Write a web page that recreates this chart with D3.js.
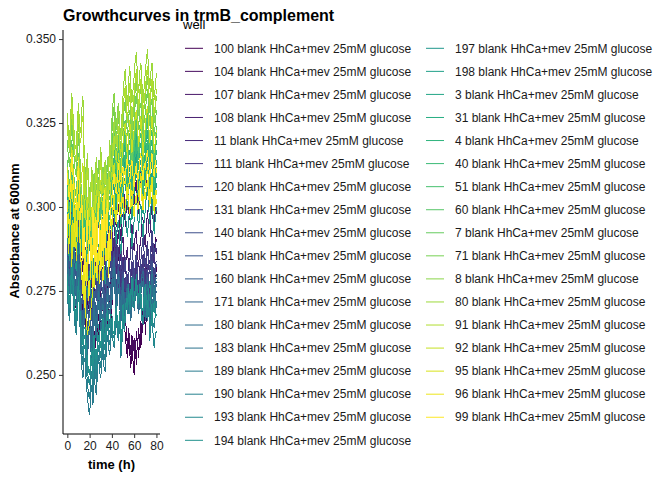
<!DOCTYPE html>
<html>
<head>
<meta charset="utf-8">
<script src="https://cdn.jsdelivr.net/npm/d3@7"></script>
<style>
  body { margin: 0; background: #fff; }
  text { font-family: "Liberation Sans", Arial, sans-serif; }
</style>
</head>
<body>
<div id="chart"></div>
<script>
// sampling times (h), hourly reads
const time = d3.range(0, 81);

// well labels, in legend order
const wells = ['100','104','107','108','11','111','120','131','140','151','160','171','180','183','189','190','193','194',
  '197','198','3','31','4','40','51','60','7','71','8','80','91','92','95','96','99'];

// OD600, in thousandths, one value per hour
const od_100 = [284,291,276,281,289,282,279,270,272,280, 285,277,270,266,278,272,264,269,273,265, 262,268,271,264,263,258,270,264,260,267, 266,261,259,264,268,262,265,270,272,266, 270,277,281,274,273,280,279,271,268,273, 272,266,262,258,255,261,257,252,259,254, 250,258,253,261,255,262,258,264,268,274, 262,268,276,271,268,275,279,273,271,278, 282];
const od_104 = [290,284,281,288,294,286,284,277,279,287, 292,283,276,280,284,275,270,276,279,271, 268,274,281,273,272,279,278,270,266,271, 275,269,270,277,280,273,274,280,283,276, 278,285,289,282,280,286,287,279,276,281, 280,274,268,263,258,264,260,256,262,257, 261,255,263,258,264,259,266,262,270,276, 277,284,289,283,281,287,292,286,284,291, 290];
const od_107 = [300,294,291,298,305,299,294,287,288,296, 302,295,287,291,295,286,280,285,290,283, 278,284,288,281,283,289,291,285,279,284, 287,281,282,289,293,287,286,292,295,289, 292,298,303,296,294,300,301,295,290,297, 298,304,294,300,305,299,296,303,310,304, 300,306,308,301,298,305,311,306,303,309, 314,308,305,312,316,310,307,313,318,312, 312];
const od_108 = [296,301,303,296,288,294,299,293,291,298, 305,297,284,289,292,285,279,284,287,280, 276,282,285,278,280,286,290,283,277,282, 284,291,288,282,281,287,292,285,286,292, 290,294,297,290,286,291,293,287,284,289, 291,285,280,286,288,281,283,290,295,289, 287,292,293,286,282,288,290,297,296,291, 288,294,299,293,291,297,302,296,294,300, 298];
const od_11  = [292,287,284,291,298,291,287,282,281,288, 294,286,279,284,288,281,273,278,283,276, 271,276,280,274,276,282,285,278,272,277, 281,275,276,283,286,280,279,285,288,282, 283,288,291,285,280,286,288,281,276,282, 285,278,272,277,280,274,269,275,278,271, 274,279,283,277,276,282,284,278,279,285, 281,287,290,284,283,288,291,286,283,288, 286];
const od_111 = [297,291,288,295,302,295,291,286,285,292, 298,291,286,290,293,285,279,284,289,282, 276,281,286,279,282,287,290,284,278,282, 285,279,281,288,291,286,284,289,292,287, 286,281,279,285,289,283,281,286,275,280, 284,277,270,276,279,273,273,279,282,277, 276,281,285,278,272,277,281,276,286,281, 278,284,288,282,280,286,291,285,283,289, 287];
const od_120 = [288,283,280,287,293,287,283,278,278,285, 290,284,281,277,275,281,286,279,272,277, 280,274,270,277,283,279,276,282,288,283, 279,284,285,279,274,281,287,283,280,286, 284,280,278,283,286,280,275,279,282,277, 271,276,279,273,268,272,276,281,284,278, 272,277,281,274,269,274,278,283,285,280, 276,280,283,278,274,280,286,282,279,283, 284];
const od_131 = [302,297,294,300,307,301,296,292,290,297, 303,297,291,287,284,290,295,288,281,286, 290,284,279,286,292,288,285,291,296,291, 287,291,293,288,283,289,295,291,288,293, 291,287,284,289,293,286,280,285,288,282, 277,281,285,279,274,279,283,287,290,284, 278,283,287,281,275,280,284,288,291,286, 282,286,289,284,280,287,293,289,285,289, 290];
const od_140 = [294,289,286,293,299,293,289,285,283,290, 296,289,283,279,277,283,288,281,274,279, 283,277,271,278,285,280,278,284,289,284, 280,284,286,281,276,282,289,285,282,287, 280,284,286,281,276,280,283,278,272,277, 280,274,272,276,277,271,275,270,275,280, 272,275,279,273,272,276,277,280,282,277, 274,278,281,276,272,279,284,280,277,281, 283];
const od_151 = [290,285,282,288,295,289,285,281,279,286, 291,284,278,274,271,277,283,276,268,273, 276,271,266,272,279,275,272,278,284,279, 275,279,280,275,270,276,282,278,276,281, 279,283,285,280,274,278,282,276,270,275, 278,273,269,272,276,270,274,269,275,278, 271,275,278,273,269,273,276,279,280,275, 271,275,278,273,269,275,281,277,274,278, 279];
const od_160 = [287,282,279,285,292,286,282,278,276,283, 289,281,274,270,266,272,279,272,263,268, 271,266,261,268,275,271,267,273,280,275, 270,274,276,271,266,272,279,275,272,277, 276,280,283,277,271,275,279,274,268,273, 276,271,268,272,275,270,273,268,274,277, 270,274,277,272,268,272,274,277,278,273, 268,272,276,271,266,272,279,275,271,275, 277];
const od_171 = [284,279,276,282,289,283,279,275,273,280, 286,278,271,267,263,269,276,269,260,265, 269,263,258,265,272,268,265,271,277,272, 268,271,273,268,264,270,276,273,270,274, 278,282,285,279,273,277,281,276,270,275, 279,274,270,274,277,272,275,270,276,279, 272,276,279,274,271,275,277,280,281,276, 271,275,279,274,269,276,282,278,274,278, 280];
const od_180 = [282,277,274,280,287,281,276,272,270,277, 283,275,267,263,259,265,272,265,255,260, 264,258,253,260,268,264,260,266,272,267, 263,266,268,263,259,265,271,268,265,269, 272,276,279,273,268,272,276,271,265,270, 275,270,266,271,274,268,270,266,272,276, 269,273,277,271,268,272,274,278,276,271, 266,270,274,269,264,270,277,273,269,273, 275];
const od_183 = [285,280,277,283,290,284,280,276,274,281, 287,279,270,266,262,268,275,268,258,263, 266,261,256,263,271,267,263,269,275,270, 266,269,271,266,262,268,274,271,268,272, 275,279,282,276,271,275,279,274,268,273, 278,272,269,273,276,271,274,269,275,279, 272,276,280,274,270,274,276,279,279,274, 269,273,277,272,267,273,280,276,272,276, 278];
const od_189 = [277,271,268,275,281,276,271,266,264,270, 276,268,258,252,249,254,255,247,244,240, 238,244,247,241,252,246,244,250,256,251, 249,254,258,252,251,257,262,258,256,260, 264,260,258,263,267,262,260,265,255,259, 268,263,266,271,268,274,269,273,277,271, 270,274,279,272,270,275,271,266,265,270, 273,268,266,271,274,269,268,273,276,271, 270];
const od_190 = [274,269,266,272,279,274,269,264,262,268, 275,268,261,256,253,258,259,252,248,244, 243,248,251,246,256,251,248,254,259,255, 252,257,261,256,254,260,265,261,259,263, 267,262,261,266,270,265,263,268,258,262, 270,266,268,273,271,277,270,275,279,273, 272,276,280,274,272,277,270,267,268,273, 276,271,269,274,262,266,270,265,264,268, 272];
const od_193 = [280,274,271,278,284,279,274,269,267,273, 279,271,264,259,256,261,262,255,252,248, 247,252,255,249,259,254,251,257,262,258, 255,260,264,259,257,263,268,264,262,266, 265,260,259,264,268,263,261,266,256,260, 268,263,267,272,269,275,268,273,277,270, 271,275,279,272,271,276,272,267,266,271, 274,269,267,272,260,264,268,262,258,262, 263];
const od_194 = [278,273,270,276,283,277,273,268,266,272, 278,271,266,262,259,264,264,258,255,251, 250,255,258,253,262,257,254,260,265,261, 258,263,267,262,260,266,270,266,264,268, 268,263,262,267,271,266,264,269,259,263, 271,266,268,273,270,276,271,275,279,273, 272,276,280,274,273,277,275,270,269,274, 277,272,270,275,278,272,265,269,272,267, 268];
const od_197 = [292,287,284,290,298,291,287,283,281,288, 294,288,283,279,276,282,287,280,273,278, 281,275,271,278,285,281,278,284,289,284, 281,285,287,282,277,283,290,286,284,289, 292,297,299,293,289,295,296,290,286,291, 294,299,300,294,291,297,298,293,288,292, 296,302,304,298,293,299,301,295,291,296, 299,304,306,300,295,300,303,297,292,297, 300];
const od_198 = [300,295,292,298,306,299,295,291,289,296, 302,296,291,287,284,290,295,288,281,286, 289,283,279,286,293,289,286,292,297,292, 289,293,295,290,285,291,298,294,292,297, 300,305,308,301,297,303,305,299,294,299, 302,307,309,303,299,305,307,301,296,301, 304,309,312,306,301,307,309,303,298,304, 306,311,313,307,302,308,310,304,299,303, 307];
const od_3   = [304,299,296,302,310,303,299,295,293,300, 306,300,295,291,288,294,299,292,285,290, 293,287,283,290,297,293,290,296,301,296, 293,297,299,294,289,295,302,298,296,301, 305,310,313,306,302,308,310,304,299,304, 307,312,314,308,304,310,312,306,301,306, 309,314,317,311,306,312,314,308,303,309, 311,316,318,312,307,313,315,309,304,308, 312];
const od_31  = [298,293,290,296,304,297,293,289,287,294, 300,294,293,289,286,292,297,290,283,288, 291,285,281,288,295,291,288,294,299,294, 291,295,297,292,287,293,300,296,294,299, 303,308,311,304,300,306,308,302,297,302, 305,310,312,306,302,308,310,304,299,304, 307,312,315,309,304,310,312,306,301,307, 309,314,316,310,305,311,313,307,302,306, 310];
const od_4   = [307,302,299,305,313,306,302,298,296,303, 309,303,298,294,291,297,302,295,288,293, 296,290,286,293,300,296,293,299,304,299, 296,300,302,297,292,298,305,301,299,304, 310,315,318,311,307,313,315,309,304,309, 312,317,319,313,309,315,317,311,306,311, 314,319,322,316,311,317,319,313,308,314, 316,321,323,317,312,318,320,314,309,313, 317];
const od_40  = [302,297,294,300,308,301,297,293,291,298, 304,298,295,291,288,294,299,292,285,290, 293,287,283,290,297,293,290,296,301,296, 293,297,299,294,289,295,302,298,296,301, 307,312,315,308,304,310,312,306,301,306, 309,314,316,310,306,312,314,308,303,308, 311,316,319,313,308,314,316,310,305,311, 313,318,320,314,309,315,317,311,306,310, 314];
const od_51  = [310,304,302,309,316,310,305,300,299,306, 312,305,301,296,294,299,305,298,291,296, 299,294,289,296,303,298,296,301,307,302, 299,303,305,299,295,301,308,304,302,306, 313,317,321,314,310,316,318,311,307,312, 315,319,322,316,312,318,320,314,309,314, 317,321,325,319,314,320,322,316,311,317, 319,323,326,320,315,321,323,317,312,316, 320];
const od_60  = [306,301,298,304,312,305,301,297,295,302, 308,302,299,295,292,298,303,296,289,294, 297,291,287,294,301,297,294,300,305,300, 297,301,303,298,293,299,306,302,300,305, 315,319,323,316,312,318,320,314,309,314, 317,322,324,318,314,320,322,316,311,316, 319,323,327,321,316,322,324,318,313,319, 321,325,328,322,317,323,325,319,314,318, 322];
const od_7   = [314,309,306,312,320,313,309,305,303,310, 316,309,303,299,296,302,307,300,293,298, 301,295,291,298,305,301,298,304,309,304, 301,305,307,302,297,303,310,306,304,309, 317,322,325,318,314,320,322,316,311,316, 319,324,326,320,316,322,324,318,313,318, 321,325,329,323,318,324,326,320,315,321, 323,327,330,324,319,325,327,321,316,320, 324];
const od_71  = [320,314,312,319,326,320,315,311,309,316, 322,314,306,302,299,305,310,303,296,301, 304,298,294,301,308,304,301,307,312,307, 304,308,310,305,300,306,313,309,307,312, 322,327,330,323,319,325,327,321,316,321, 324,329,332,326,321,327,329,323,318,323, 326,331,334,328,323,329,331,325,320,326, 328,332,335,329,324,330,332,326,321,325, 329];
const od_8   = [324,319,316,322,330,323,319,315,313,320, 326,318,308,304,301,307,312,305,298,303, 306,300,296,303,310,306,303,309,314,309, 306,310,312,307,302,308,315,311,309,314, 326,331,334,327,323,329,331,325,320,325, 328,333,336,330,325,331,333,327,322,327, 330,335,338,332,327,333,335,329,324,330, 332,336,339,333,328,334,336,330,325,329, 333];
const od_80  = [328,322,320,327,334,328,323,318,317,325, 331,324,322,329,333,318,306,311,316,308, 300,306,312,305,302,309,315,308,305,312, 318,311,307,310,314,308,304,312,320,315, 312,319,326,321,318,324,329,323,320,327, 333,338,341,334,330,337,342,336,331,335, 339,344,346,339,334,340,343,337,331,336, 340,344,347,340,335,340,343,337,332,336, 340];
const od_91  = [325,319,317,324,331,325,320,315,314,321, 328,321,319,325,327,314,302,307,312,305, 297,303,309,302,299,306,311,305,302,309, 315,308,304,307,311,305,300,309,316,311, 308,315,321,316,313,319,324,318,315,322, 328,333,336,330,325,332,337,331,326,330, 334,338,341,335,329,334,338,333,326,331, 335,339,342,336,330,335,338,332,327,331, 335];
const od_92  = [312,306,304,311,318,312,307,302,301,308, 315,308,306,310,313,302,296,300,303,297, 291,296,300,294,293,299,305,299,297,303, 308,302,299,303,306,301,295,302,309,304, 302,308,313,309,306,311,316,311,308,314, 319,323,325,320,314,320,326,321,316,320, 323,327,329,324,318,322,327,322,315,320, 324,328,330,325,319,323,327,322,316,320, 323];
const od_95  = [298,286,292,300,282,296,288,301,284,292, 300,292,285,280,278,272,270,266,262,264, 265,269,272,277,276,281,283,278,288,284, 287,282,285,290,288,284,290,287,282,288, 296,300,304,298,296,301,308,302,300,304, 306,310,311,305,302,306,309,303,300,304, 307,311,313,307,303,307,310,304,299,303, 306,309,312,307,302,306,309,303,298,301, 305];
const od_96  = [302,296,294,300,308,302,297,292,291,298, 304,293,286,279,274,283,268,279,286,272, 275,284,291,276,280,290,296,281,287,277, 293,282,278,291,298,284,290,279,293,285, 294,299,301,297,295,300,304,298,297,301, 303,298,299,304,306,301,298,303,305,300, 297,302,304,299,300,305,307,302,299,304, 302,306,308,303,300,304,307,302,300,305, 301];
const od_99  = [310,304,302,308,316,310,305,300,299,306, 314,302,296,304,284,294,278,290,299,283, 296,282,289,300,285,297,279,293,303,286, 281,298,287,305,284,296,302,283,292,299, 303,307,310,305,304,309,313,308,306,310, 312,307,308,313,315,310,307,312,314,309, 306,311,313,308,309,314,316,311,308,313, 311,315,317,312,309,313,316,311,309,314, 310];

const series = [od_100, od_104, od_107, od_108, od_11, od_111, od_120, od_131, od_140, od_151, od_160, od_171,
  od_180, od_183, od_189, od_190, od_193, od_194, od_197, od_198, od_3, od_31, od_4, od_40, od_51, od_60,
  od_7, od_71, od_8, od_80, od_91, od_92, od_95, od_96, od_99];

const yTicks = [0.250, 0.275, 0.300, 0.325, 0.350];
const xTicks = [0, 20, 40, 60, 80];

const width = 672, height = 480;
const panel = {left: 63, right: 160, top: 30, bottom: 434};

const svg = d3.select('#chart').append('svg')
  .attr('width', width)
  .attr('height', height);

const x = d3.scaleLinear().domain([-3.9, 83.2]).range([panel.left, panel.right]);
const y = d3.scaleLinear().domain([0.2324, 0.3527]).range([panel.bottom, panel.top]);

const color = d3.scaleOrdinal()
  .domain(wells)
  .range(wells.map((w, i) => d3.interpolateViridis(i / (wells.length - 1))));

const line = d3.line()
  .defined((d, i) => i < time.length)
  .x((d, i) => x(time[i]))
  .y(d => y(d / 1000));

// growth curves, first well drawn first so yellow ends on top
svg.append('g')
  .selectAll('path')
  .data(series)
  .join('path')
  .attr('fill', 'none')
  .attr('stroke', (d, i) => color(wells[i]))
  .attr('stroke-width', 1)
  .attr('shape-rendering', 'crispEdges')
  .attr('d', line);

// axes
const yAxis = svg.append('g')
  .attr('transform', `translate(${panel.left},0)`)
  .call(d3.axisLeft(y).tickValues(yTicks).tickFormat(d3.format('.3f')).tickSize(4).tickPadding(3));
yAxis.select('.domain').attr('d', `M0,${panel.top}V${panel.bottom}`);

const xAxis = svg.append('g')
  .attr('transform', `translate(0,${panel.bottom})`)
  .call(d3.axisBottom(x).tickValues(xTicks).tickSize(4).tickPadding(3));
xAxis.select('.domain').attr('d', `M${panel.left},0H${panel.right}`);

svg.selectAll('.domain').attr('stroke', '#000').attr('stroke-width', 1);
svg.selectAll('.tick line').attr('stroke', '#333');
svg.selectAll('.tick text')
  .attr('fill', '#1a1a1a')
  .style('font-size', '12px')
  .style('font-family', '"Liberation Sans", Arial, sans-serif');

// titles
svg.append('text')
  .attr('x', 63).attr('y', 21)
  .style('font-size', '16px').style('font-weight', 'bold')
  .text('Growthcurves in trmB_complement');

svg.append('text')
  .attr('x', (panel.left + panel.right) / 2).attr('y', 469)
  .attr('text-anchor', 'middle')
  .style('font-size', '13px').style('font-weight', 'bold')
  .text('time (h)');

svg.append('text')
  .attr('transform', 'translate(19,231)rotate(-90)')
  .attr('text-anchor', 'middle')
  .style('font-size', '13px').style('font-weight', 'bold')
  .text('Absorbance at 600nm');

// legend
const legend = svg.append('g');
legend.append('text')
  .attr('x', 183).attr('y', 29)
  .style('font-size', '13px')
  .text('well');

const rowsPerCol = 18;
const rowH = 23.06;
const item = legend.selectAll('g.item')
  .data(wells)
  .join('g')
  .attr('class', 'item')
  .attr('transform', (d, i) => {
    const col = Math.floor(i / rowsPerCol), row = i % rowsPerCol;
    return `translate(${185 + col * 241},${48.3 + row * rowH})`;
  });

item.append('line')
  .attr('x1', 0).attr('x2', 18)
  .attr('stroke', d => color(d))
  .attr('stroke-width', 1);

item.append('text')
  .attr('x', 29).attr('dy', '0.35em')
  .style('font-size', '12px')
  .attr('fill', '#1a1a1a')
  .text(d => `${d} blank HhCa+mev 25mM glucose`);
</script>
</body>
</html>
